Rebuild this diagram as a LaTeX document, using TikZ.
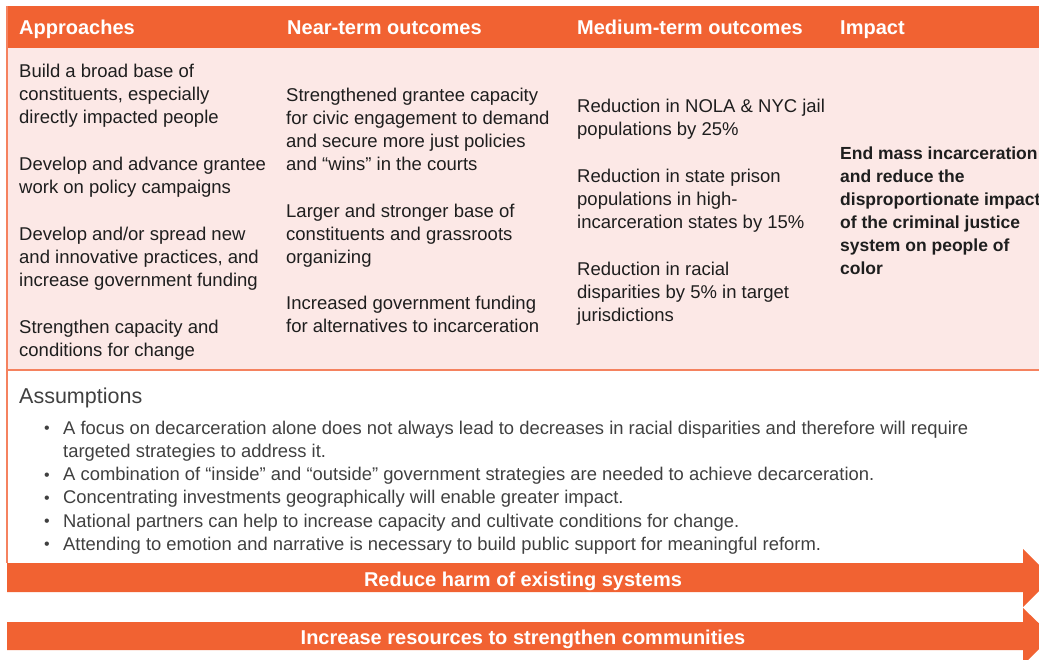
\documentclass[tikz,border=0pt]{standalone}
\usepackage{fontspec}
\setmainfont{Liberation Sans}
\usetikzlibrary{positioning}

\definecolor{bandorange}{RGB}{241,98,50}
\definecolor{rowpink}{RGB}{252,232,230}
\definecolor{edgeorange}{RGB}{245,130,95}
\definecolor{notegray}{RGB}{64,64,64}
\definecolor{bodyink}{RGB}{30,30,30}
\newcommand{\lineone}{\rule{0pt}{17pt}}
\newcommand{\itembullet}{\makebox[19pt][l]{\raisebox{0.5pt}{\fontsize{16}{16}\selectfont\textbullet}}}

\begin{document}
\begin{tikzpicture}[
                    x=1pt,
                    y=-1pt,
                    every node/.style={anchor=north west, inner sep=0pt, align=left},
                    head/.style={text=white, font=\fontsize{20}{24}\selectfont\bfseries},
                    cell/.style={text=bodyink, font=\fontsize{18.5}{23}\selectfont},
                    impact/.style={text=bodyink, font=\fontsize{17.5}{23}\selectfont\bfseries},
                    note/.style={text=notegray, font=\fontsize{18.4}{23.2}\selectfont},
                    band/.style={fill=bandorange},
                    bandtext/.style={anchor=base, text=white, font=\fontsize{20}{24}\selectfont\bfseries}
                ]
                \useasboundingbox (0,0) rectangle (1039,660);
                \clip (0,0) rectangle (1039,660);

                \fill[bandorange] (7,6) rectangle (1045,48);
                \fill[rowpink] (7,48) rectangle (1045,370);
                \draw[edgeorange, line width=1.5pt] (7,370) -- (1045,370);
                \draw[edgeorange, line width=1.2pt] (7,6) -- (7,563);

                \node[head] (approaches) at (19,17) {\lineone Approaches};
                \node[head] (nearterm) at (287,17) {\lineone Near-term outcomes};
                \node[head] (mediumterm) at (577,17) {\lineone Medium-term outcomes};
                \node[head] (impact) at (840,17) {\lineone Impact};

                \begin{scope}[every node/.append style={cell}]
                    \node (base) at (19,60) {\lineone Build a broad base of\\constituents, especially\\directly impacted people};
                    \node (policy) at (19,153) {\lineone Develop and advance grantee\\work on policy campaigns};
                    \node (practices) at (19,223) {\lineone Develop and/or spread new\\and innovative practices, and\\increase government funding};
                    \node (capacity) at (19,316) {\lineone Strengthen capacity and\\conditions for change};

                    \node (civic) at (286,84) {\lineone Strengthened grantee capacity\\for civic engagement to demand\\and secure more just policies\\and “wins” in the courts};
                    \node (grassroots) at (286,200) {\lineone Larger and stronger base of\\constituents and grassroots\\organizing};
                    \node (funding) at (286,292) {\lineone Increased government funding\\for alternatives to incarceration};

                    \node (jail) at (577,95) {\lineone Reduction in NOLA \& NYC jail\\populations by 25\%};
                    \node (prison) at (577,165) {\lineone Reduction in state prison\\populations in high-\\incarceration states by 15\%};
                    \node (racial) at (577,258) {\lineone Reduction in racial\\disparities by 5\% in target\\jurisdictions};
                \end{scope}

                \node[impact] (endmass) at (840,142) {\lineone End mass incarceration\\and reduce the\\disproportionate impact\\of the criminal justice\\system on people of\\color};

                \node[note, font=\fontsize{21.5}{24}\selectfont] (assumptions) at (19,386) {\lineone Assumptions};
                \node[note] (beliefs) at (44,417) {\lineone\itembullet A focus on decarceration alone does not always lead to decreases in racial disparities and therefore will require\\
                    \hspace*{19pt}targeted strategies to address it.\\
                    \itembullet A combination of “inside” and “outside” government strategies are needed to achieve decarceration.\\
                    \itembullet Concentrating investments geographically will enable greater impact.\\
                    \itembullet National partners can help to increase capacity and cultivate conditions for change.\\
                    \itembullet Attending to emotion and narrative is necessary to build public support for meaningful reform.};

                \fill[band] (7,563) -- (1023,563) -- (1023,549) -- (1052,578) -- (1023,607) -- (1023,592) -- (7,592) -- cycle;
                \fill[band] (7,622) -- (1023,622) -- (1023,608) -- (1052,636) -- (1023,665) -- (1023,650) -- (7,650) -- cycle;

                \node[bandtext] (reduce) at (523,586) {Reduce harm of existing systems};
                \node[bandtext] (increase) at (523,644) {Increase resources to strengthen communities};
            \end{tikzpicture}
\end{document}
